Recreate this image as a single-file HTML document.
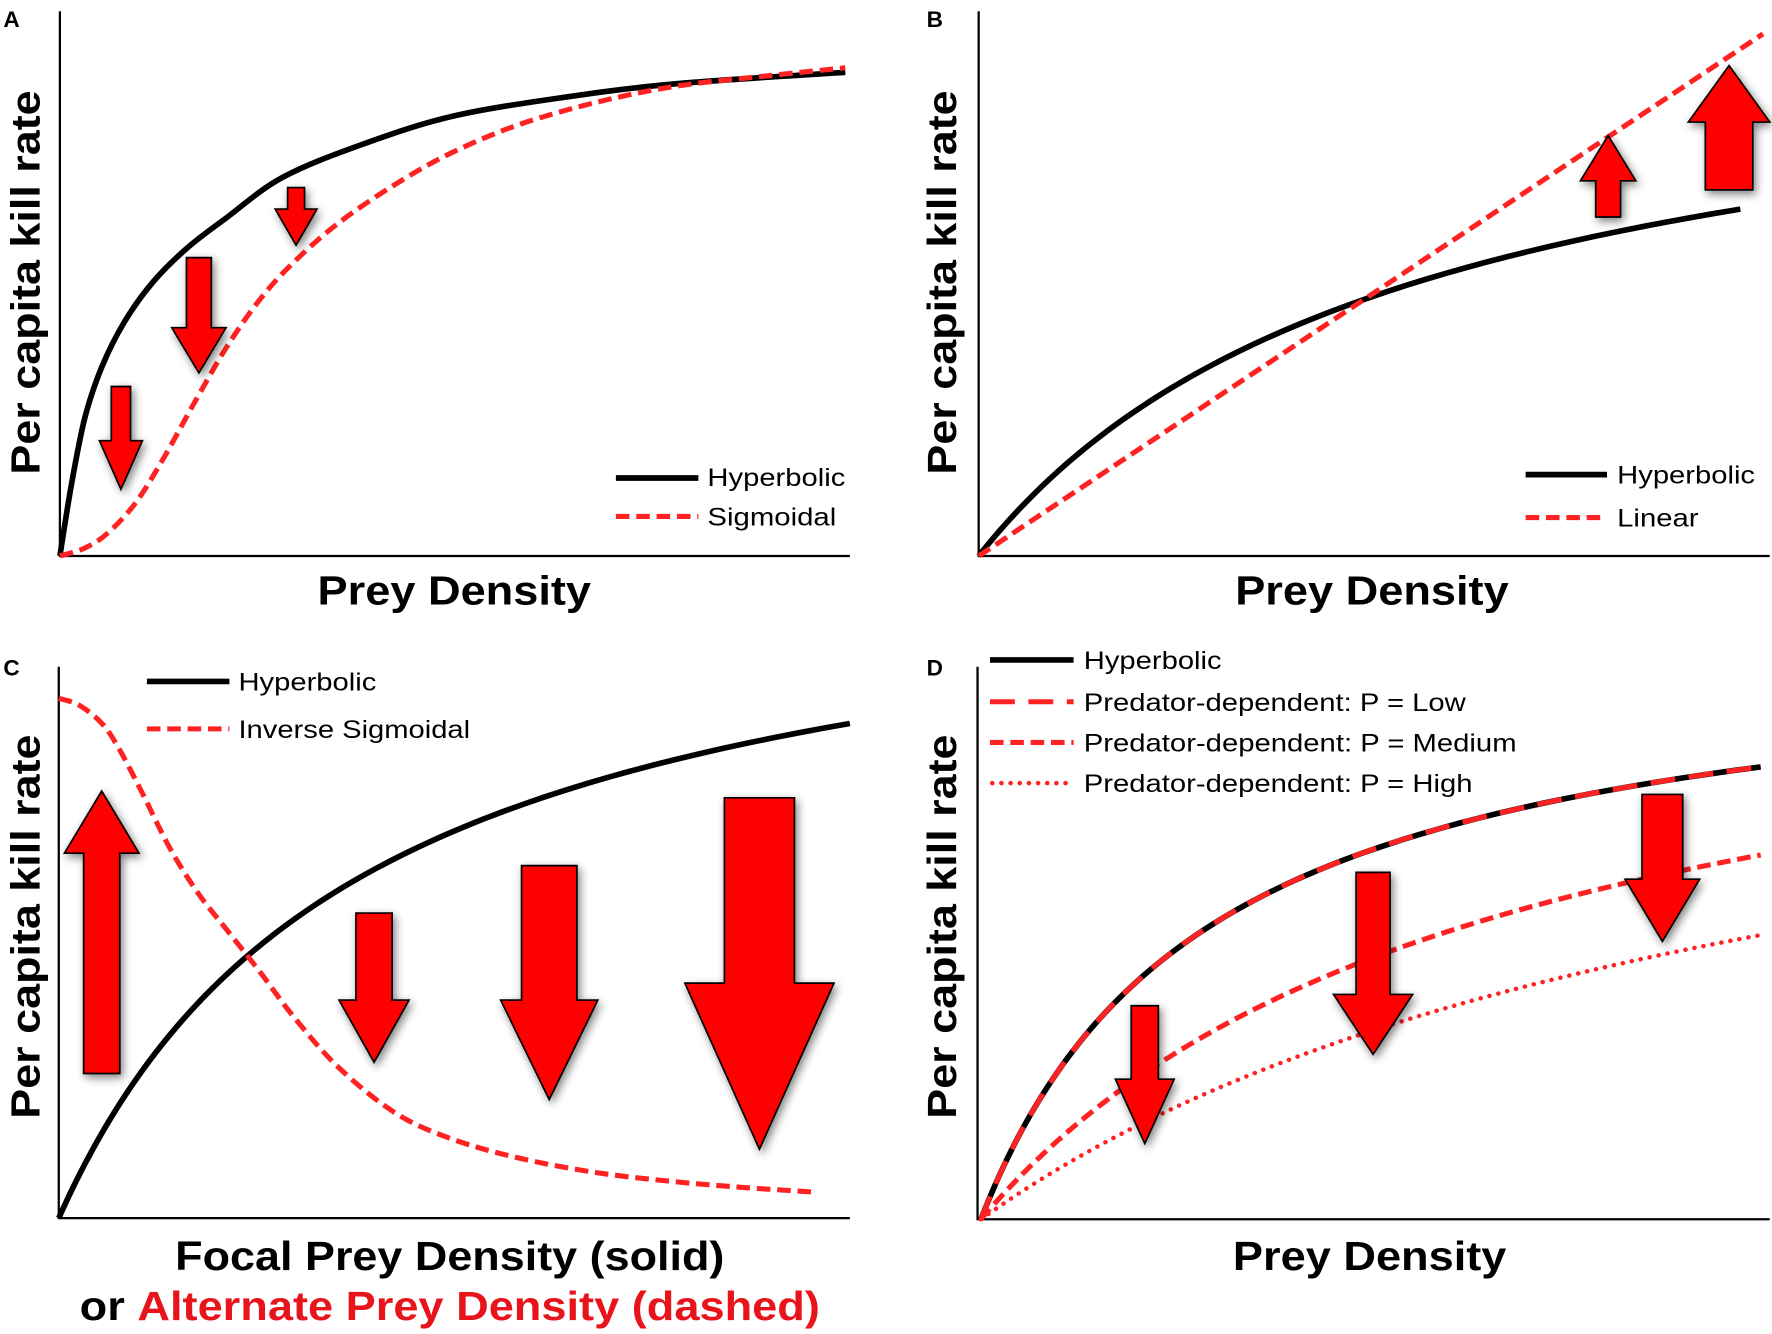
<!DOCTYPE html>
<html><head><meta charset="utf-8"><style>
html,body{margin:0;padding:0;background:#fff;}
svg{display:block;}
text{font-family:"Liberation Sans",Arial,sans-serif;}
.lab{font-weight:bold;font-size:36px;}
.leg{font-size:22px;}
.pl{font-weight:bold;font-size:20px;}
</style></head><body>
<svg id="s" width="1772" height="1334" viewBox="0 0 1568 1180.5" preserveAspectRatio="none" xmlns="http://www.w3.org/2000/svg">
<defs><filter id="sh" x="-30%" y="-30%" width="160%" height="160%"><feGaussianBlur in="SourceAlpha" stdDeviation="4"/><feOffset dx="2" dy="3"/><feComponentTransfer><feFuncA type="linear" slope="0.5"/></feComponentTransfer><feMerge><feMergeNode/><feMergeNode in="SourceGraphic"/></feMerge></filter></defs>
<g stroke="#000" stroke-width="2" fill="none">
<path d="M53 10V492H752"/>
<path d="M866 10V492H1566"/>
<path d="M52 590V1078H752"/>
<path d="M865 590V1079H1566"/>
</g>
<g id="curves" fill="none"></g>
<g id="arrows" fill="#f00" stroke="#000" stroke-width="1.5" filter="url(#sh)"></g>
<text class="pl" x="3" y="24">A</text>
<text class="pl" x="820" y="24">B</text>
<text class="pl" x="3" y="598">C</text>
<text class="pl" x="820" y="598">D</text>
<text class="lab" transform="translate(35,250) rotate(-90)" text-anchor="middle" textLength="340" lengthAdjust="spacingAndGlyphs">Per capita kill rate</text>
<text class="lab" transform="translate(846,250) rotate(-90)" text-anchor="middle" textLength="340" lengthAdjust="spacingAndGlyphs">Per capita kill rate</text>
<text class="lab" transform="translate(35,820) rotate(-90)" text-anchor="middle" textLength="340" lengthAdjust="spacingAndGlyphs">Per capita kill rate</text>
<text class="lab" transform="translate(846,820) rotate(-90)" text-anchor="middle" textLength="340" lengthAdjust="spacingAndGlyphs">Per capita kill rate</text>
<text class="lab" x="402" y="535" text-anchor="middle" textLength="242" lengthAdjust="spacingAndGlyphs">Prey Density</text>
<text class="lab" x="1214" y="535" text-anchor="middle" textLength="242" lengthAdjust="spacingAndGlyphs">Prey Density</text>
<text class="lab" x="1212" y="1124" text-anchor="middle" textLength="242" lengthAdjust="spacingAndGlyphs">Prey Density</text>
<text class="lab" x="398" y="1124" text-anchor="middle" textLength="486" lengthAdjust="spacingAndGlyphs">Focal Prey Density (solid)</text>
<text class="lab" x="398" y="1168" text-anchor="middle" textLength="655" lengthAdjust="spacingAndGlyphs">or <tspan fill="#e8141b">Alternate Prey Density (dashed)</tspan></text>
<g class="leg">
<text x="626" y="430" textLength="122" lengthAdjust="spacingAndGlyphs">Hyperbolic</text>
<text x="626" y="465" textLength="114" lengthAdjust="spacingAndGlyphs">Sigmoidal</text>
<text x="1431" y="428" textLength="122" lengthAdjust="spacingAndGlyphs">Hyperbolic</text>
<text x="1431" y="466" textLength="72" lengthAdjust="spacingAndGlyphs">Linear</text>
<text x="211" y="611" textLength="122" lengthAdjust="spacingAndGlyphs">Hyperbolic</text>
<text x="211" y="653" textLength="205" lengthAdjust="spacingAndGlyphs">Inverse Sigmoidal</text>
<text x="959" y="592" textLength="122" lengthAdjust="spacingAndGlyphs">Hyperbolic</text>
<text x="959" y="629" textLength="338" lengthAdjust="spacingAndGlyphs">Predator-dependent: P = Low</text>
<text x="959" y="665" textLength="383" lengthAdjust="spacingAndGlyphs">Predator-dependent: P = Medium</text>
<text x="959" y="701" textLength="344" lengthAdjust="spacingAndGlyphs">Predator-dependent: P = High</text>
</g>
<g fill="none" stroke-width="4.5">
<path d="M545 423H618" stroke="#000" stroke-width="5"/>
<path d="M545 457H618" stroke="#f22" stroke-dasharray="12 6"/>
<path d="M1350 420H1422" stroke="#000" stroke-width="5"/>
<path d="M1350 458H1422" stroke="#f22" stroke-dasharray="12 6"/>
<path d="M130 603H203" stroke="#000" stroke-width="5"/>
<path d="M130 645H203" stroke="#f22" stroke-dasharray="12 6"/>
<path d="M876 584H950" stroke="#000" stroke-width="5"/>
<path d="M876 621H950" stroke="#f22" stroke-dasharray="22 12"/>
<path d="M876 657H950" stroke="#f22" stroke-dasharray="12 6"/>
<path d="M878 693H950" stroke="#f22" stroke-width="4" stroke-dasharray="0.1 8" stroke-linecap="round"/>
</g>
</svg>
<script>
var NS="http://www.w3.org/2000/svg";
function cr(p){var d="M"+p[0][0]+" "+p[0][1];for(var i=0;i<p.length-1;i++){var a=p[Math.max(i-1,0)],b=p[i],c=p[i+1],e=p[Math.min(i+2,p.length-1)];d+=" C"+(b[0]+(c[0]-a[0])/6)+" "+(b[1]+(c[1]-a[1])/6)+" "+(c[0]-(e[0]-b[0])/6)+" "+(c[1]-(e[1]-b[1])/6)+" "+c[0]+" "+c[1];}return d;}
function hyp(x0,y0,x1,A,B){var p=[];for(var i=0;i<=60;i++){var t=i/60;var x=(x1-x0)*t*t;p.push([x0+x,y0-A*x/(B+x)]);}return p;}
var G=document.getElementById("curves");
function add(d,col,w,dash,cap){var e=document.createElementNS(NS,"path");e.setAttribute("d",d);e.setAttribute("stroke",col);e.setAttribute("stroke-width",w);if(dash)e.setAttribute("stroke-dasharray",dash);if(cap)e.setAttribute("stroke-linecap",cap);G.appendChild(e);}
var R="#f22";
// A
add(cr([[53,492],[63,430],[75,370],[90,325],[110,285],[135,250],[165,220],[200,193],[250,157],[320,128],[400,103],[500,86],[600,74],[748,64]]),"#000",5);
add(cr([[53,492],[75,485],[95,472],[120,445],[145,405],[170,360],[200,308],[230,265],[260,232],[300,197],[350,163],[400,135],[460,110],[530,90],[600,76],[680,67],[748,60]]),R,4.5,"12 6");
// B
add(cr(hyp(866,492,1540,480,380)),"#000",5);
add("M866 492L1560 30",R,4.5,"12 6");
// C
add(cr(hyp(52,1078,752,606,269)),"#000",5);
add(cr([[52,618],[70,624],[90,640],[105,662],[125,700],[150,750],[175,790],[200,822],[230,860],[260,900],[300,945],[350,985],[400,1008],[460,1025],[530,1038],[600,1046],[660,1051],[722,1055]]),R,4.5,"12 6");
// D
add(cr(hyp(868,1079,1558,517,201)),"#000",5);
add(cr(hyp(868,1079,1558,517,201)),R,4.5,"22 12");
add(cr(hyp(868,1079,1558,534,453)),R,4.5,"12 6");
add(cr(hyp(868,1079,1558,514,720)),R,4,"0.1 8","round");
var AG=document.getElementById("arrows");
function arr(cx,sw,top,sb,hw,tip){var p=[[cx-sw,top],[cx+sw,top],[cx+sw,sb],[cx+hw,sb],[cx,tip],[cx-hw,sb],[cx-sw,sb]];var e=document.createElementNS(NS,"polygon");e.setAttribute("points",p.map(function(q){return q.join(",")}).join(" "));AG.appendChild(e);}
arr(107,8.5,342,390,19,433);
arr(176,11,228,290,24,330);
arr(262,7.5,166,185,18.5,217);
arr(1423,11,192,160,24.5,120);
arr(1530,21,168,108,36,58);
arr(90,16,950,755,33,700);
arr(331,16,808,885,31,940);
arr(486,24.5,766,885,43,973);
arr(672,31,706,870,66,1017);
arr(1013,12,890,955,26,1012);
arr(1215,15,772,880,35,933);
arr(1471,18,703,778,33,833);
</script>
</body></html>
